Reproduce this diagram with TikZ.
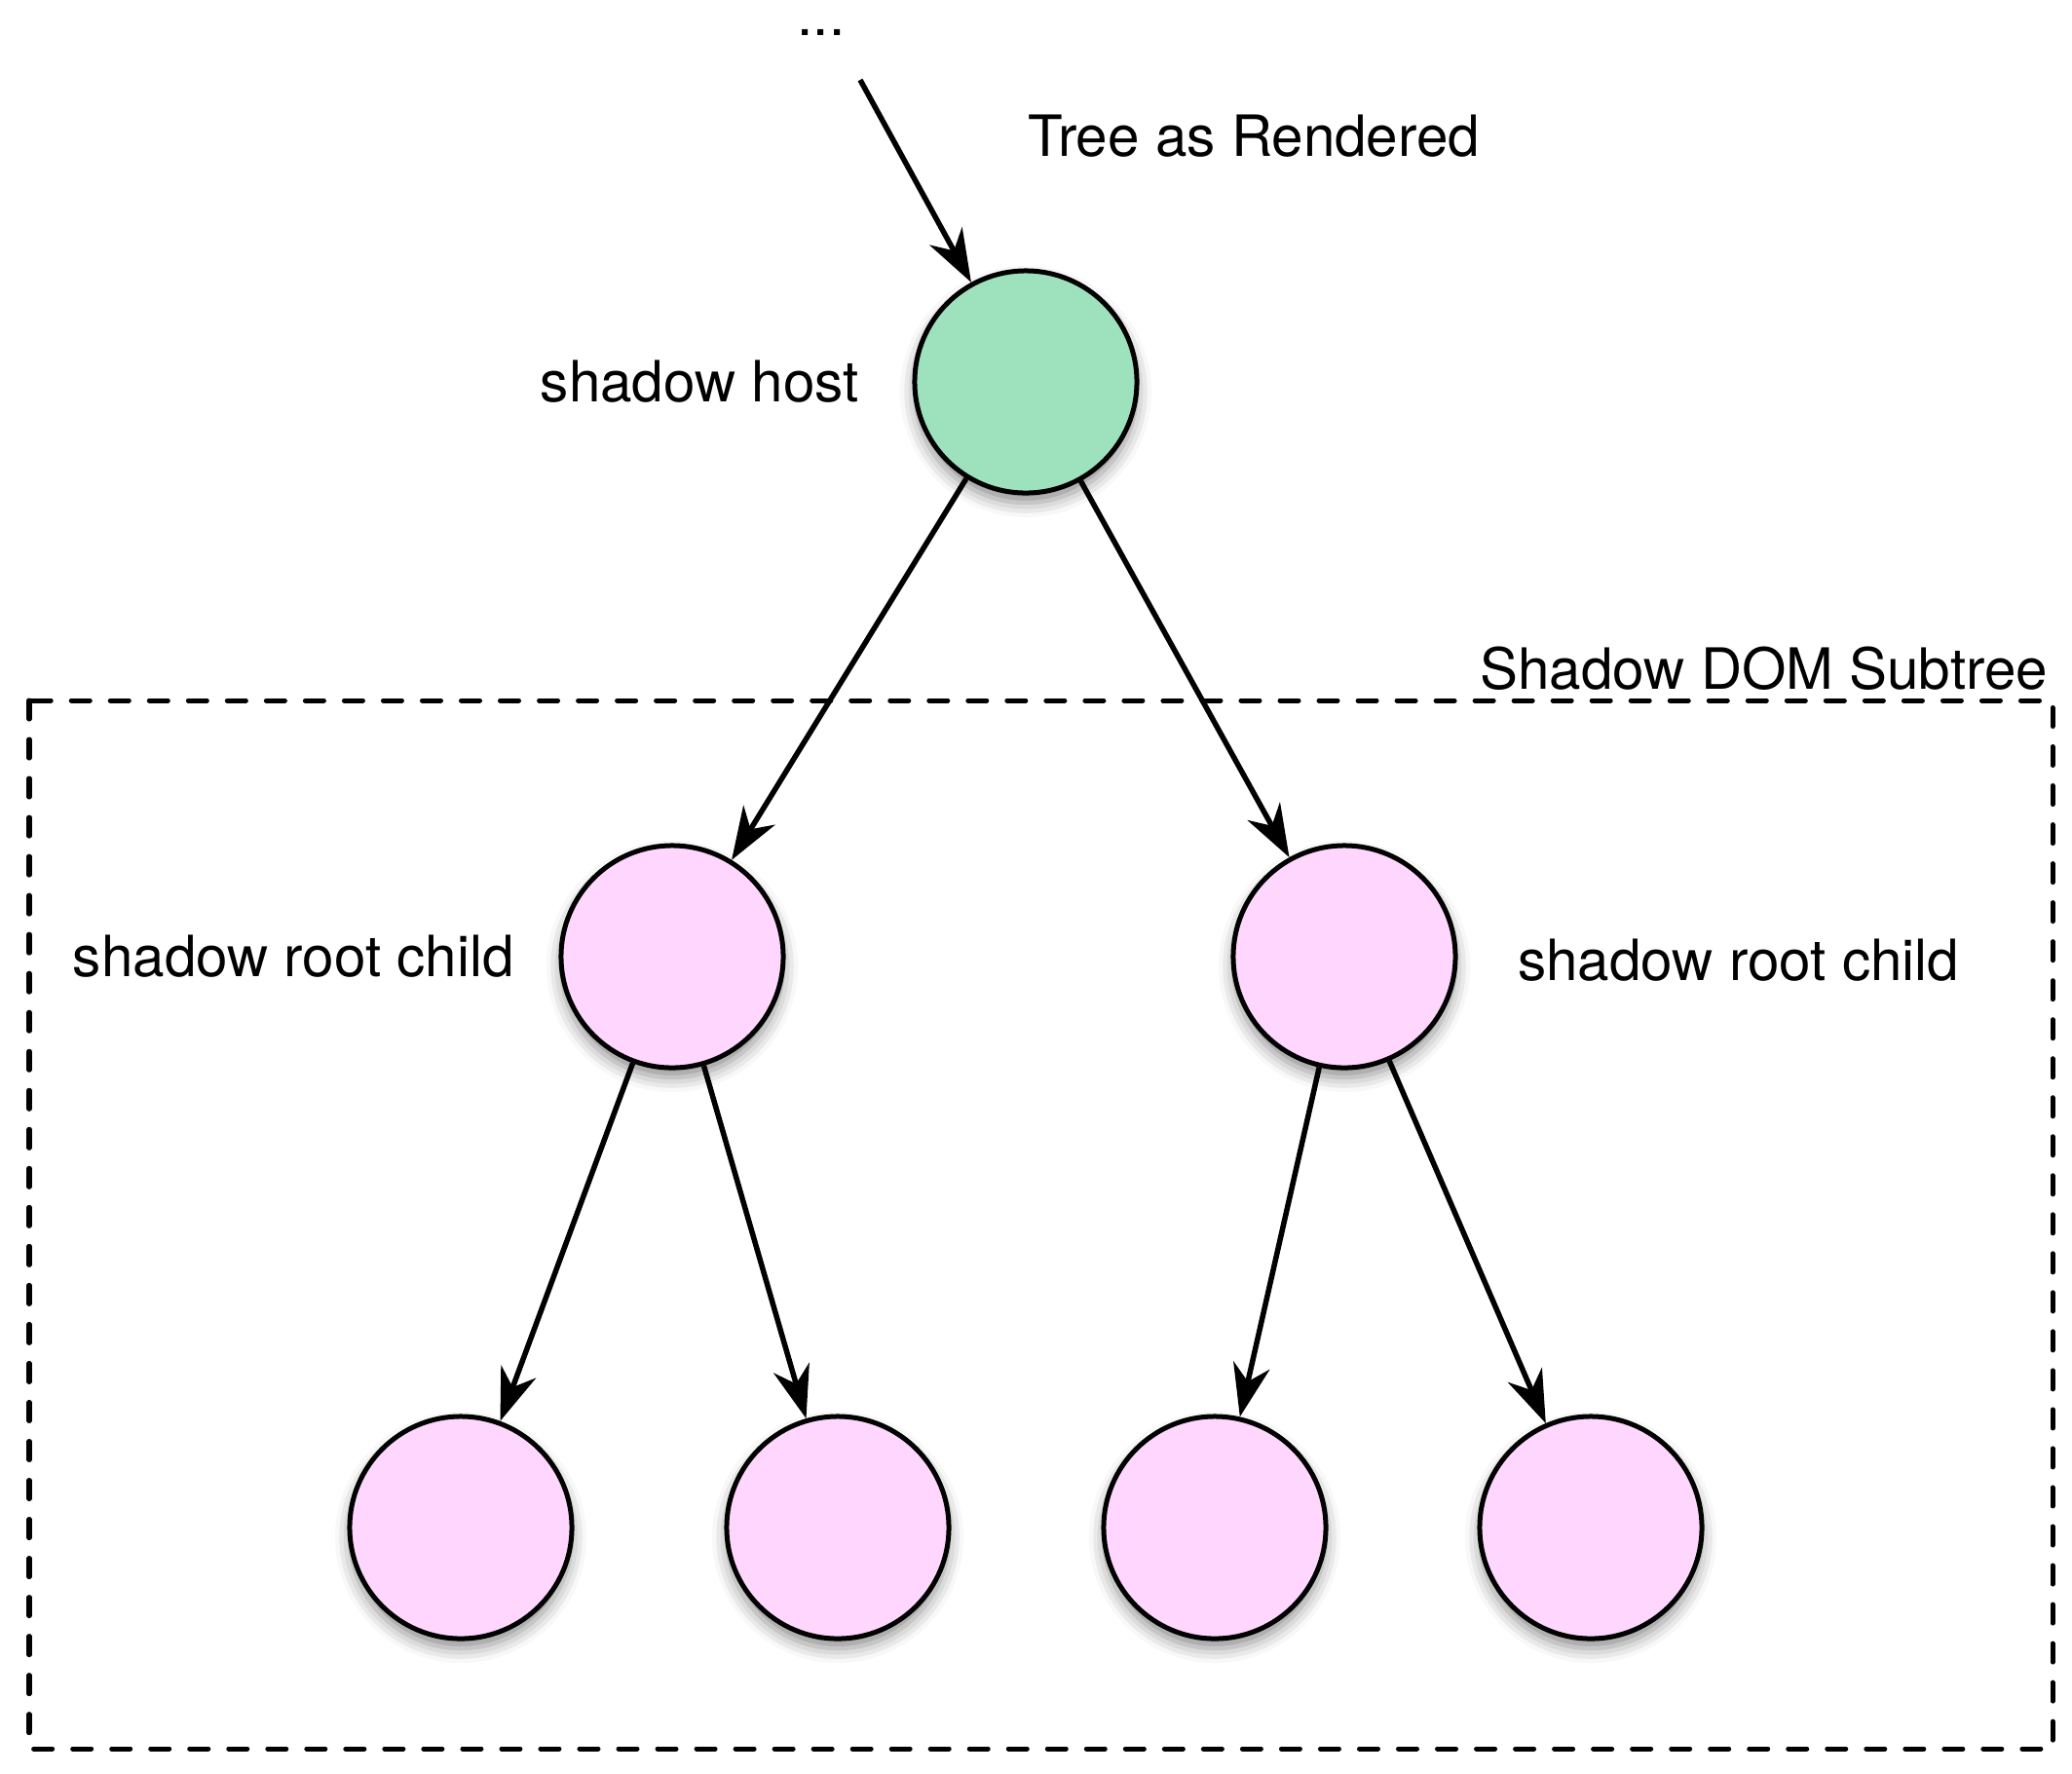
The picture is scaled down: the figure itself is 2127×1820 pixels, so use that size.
\documentclass[tikz,border=0pt]{standalone}
\usepackage{fontspec}
\setmainfont{TeX Gyre Heros}
\usetikzlibrary{arrows.meta,shadows.blur,positioning}
\definecolor{hostgreen}{RGB}{158,226,189}
\definecolor{rootpink}{RGB}{255,214,253}
\begin{document}
\begin{tikzpicture}[x=0.01cm,y=-0.01cm,
	treenode/.style={circle,draw=black,line width=0.05cm,minimum size=2.28cm,inner sep=0pt,
		blur shadow={shadow xshift=0cm,shadow yshift=-0.1cm,shadow blur radius=0.15cm,shadow opacity=45}},
	link/.style={line width=0.055cm,-{Stealth[length=0.54cm,width=0.38cm,inset=0.17cm]}},
	subtreebox/.style={line width=0.05cm,line cap=round,dash pattern=on 0.19cm off 0.21cm},
	lbl/.style={inner sep=0pt,font=\fontsize{16.6}{20}\selectfont}]
		\useasboundingbox (0,0) rectangle (2127,1820);
		\draw[subtreebox] (30,719) rectangle (2107,1795);
		\node[lbl,anchor=base east] (boxlbl) at (2103,707) {Shadow DOM Subtree};
		% the tree
		\node[treenode,fill=hostgreen] (host) at (1053,392) {};
		\node[treenode,fill=rootpink] (rootL) at (690,982) {};
		\node[treenode,fill=rootpink] (rootR) at (1380,982) {};
		\foreach \x/\n in {473/leafA,860/leafB,1247/leafC,1633/leafD}
		{
			\node[treenode,fill=rootpink] (\n) at (\x,1568) {};
		}
		% labels
		\node[lbl,anchor=base] (dots) at (843,36) {...};
		\coordinate (start) at (883,82);
		\node[lbl,anchor=base west] (title) at (1055,160) {Tree as Rendered};
		\node[lbl,left=0.54cm of host] (hostlbl) {shadow host};
		\node[lbl,left=0.45cm of rootL] (rootLlbl) {shadow root child};
		\node[lbl,right=0.61cm of rootR,yshift=-0.04cm] (rootRlbl) {shadow root child};
		% arrows
		\draw[link] (start) -- (host);
		\foreach \a/\b in {host/rootL,host/rootR,rootL/leafA,rootL/leafB,rootR/leafC,rootR/leafD}
		{
			\draw[link] (\a) -- (\b);
		}
\end{tikzpicture}
\end{document}
